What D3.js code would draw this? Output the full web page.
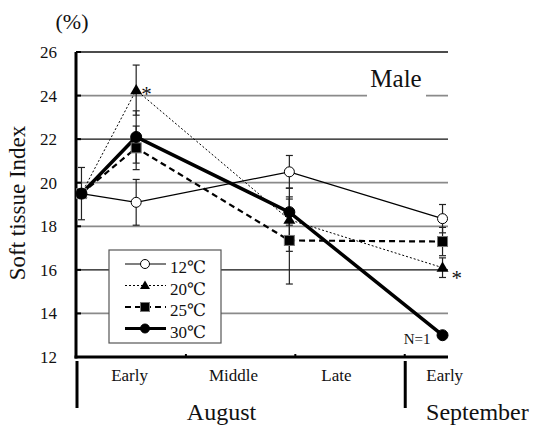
<!DOCTYPE html>
<html>
<head>
<meta charset="utf-8">
<script src="https://cdn.jsdelivr.net/npm/d3@7"></script>
<style>
  body { margin: 0; background: #fff; }
  text { font-family: "Liberation Serif", "DejaVu Serif", serif; fill: #111; }
</style>
</head>
<body>
<svg id="plot-svg" width="535" height="426"></svg>
<script>
// sampling points, in days from 1 August
const sampleDays = [0.5, 5.5, 19.5, 33.5];

const series = ["12℃", "20℃", "25℃", "30℃"];
const values12 = [19.5, 19.1, 20.5, 18.35];
const values20 = [19.5, 24.25, 18.3, 16.1];
const values25 = [19.5, 21.6, 17.35, 17.3];
const values30 = [19.5, 22.1, 18.65, 13.0];

const err12 = [0, 1.05, 0.75, 0.65];
const err20 = [0, 1.15, 1.45, 0.45];
const err25 = [0, 1.0, 2.0, 0.65];
const err30 = [1.2, 1.2, 0.6, 0];

const yTicks = [12, 14, 16, 18, 20, 22, 24, 26];
const periodLabels = ["Early", "Middle", "Late", "Early"];
const periodDays = [4.9, 14.4, 23.8, 33.7];
const monthLabels = ["August", "September"];

const X0 = 76, X1 = 448, Y0 = 357, Y1 = 52;

const svg = d3.select("#plot-svg");

const x = d3.scaleLinear().domain([0, 34]).range([X0, X1]);
const y = d3.scaleLinear().domain([12, 26]).range([Y0, Y1]);

// gridlines
const darkLines = [26, 22, 16];
svg.append("g")
    .selectAll("line")
    .data(yTicks.filter(d => d > 12))
    .enter()
    .append("line")
    .attr("x1", X0).attr("x2", X1)
    .attr("y1", d => y(d)).attr("y2", d => y(d))
    .attr("stroke", d => darkLines.includes(d) ? "#111" : "#8a8a8a")
    .attr("stroke-width", d => darkLines.includes(d) ? 1.3 : 1.8);

// "Male" with white gap over the 24 line
svg.append("rect")
    .attr("x", 367).attr("y", y(24) - 3).attr("width", 59).attr("height", 6)
    .attr("fill", "#fff");
svg.append("text")
    .attr("x", 396).attr("y", 87)
    .attr("text-anchor", "middle")
    .style("font-size", "25px")
    .text("Male");

// y axis labels
const yAxis = d3.axisLeft(y).tickValues(yTicks).tickSize(0).tickPadding(0);
const gy = svg.append("g")
    .attr("transform", "translate(" + (X0 - 19) + ",0)")
    .call(yAxis);
gy.select(".domain").remove();
gy.selectAll("text")
    .style("font-family", "Liberation Serif")
    .style("font-size", "17px")
    .attr("fill", "#111");

// small y ticks on the axis
svg.append("g")
    .selectAll("line")
    .data(yTicks)
    .enter()
    .append("line")
    .attr("x1", X0).attr("x2", X0 + 5)
    .attr("y1", d => y(d)).attr("y2", d => y(d))
    .attr("stroke", "#000").attr("stroke-width", 2);

// x axis ticks
const xAxis = d3.axisBottom(x).tickValues([10, 20, 30]).tickSize(-3).tickFormat("");
const gx = svg.append("g")
    .attr("transform", "translate(0," + Y0 + ")")
    .call(xAxis);
gx.select(".domain").remove();
gx.selectAll("line").attr("stroke", "#000").attr("stroke-width", 2);

// axis lines
svg.append("line")
    .attr("x1", X0).attr("x2", X0).attr("y1", Y1).attr("y2", Y0 + 1.5)
    .attr("stroke", "#000").attr("stroke-width", 3);
svg.append("line")
    .attr("x1", X0 - 1.5).attr("x2", X1).attr("y1", Y0).attr("y2", Y0)
    .attr("stroke", "#000").attr("stroke-width", 3);

// month separators
svg.append("g")
    .selectAll("line")
    .data([0, 30])
    .enter()
    .append("line")
    .attr("x1", d => x(d) + 1).attr("x2", d => x(d) + 1)
    .attr("y1", 361).attr("y2", 408)
    .attr("stroke", "#000").attr("stroke-width", 3);

svg.append("g")
    .selectAll("text")
    .data(periodLabels)
    .enter()
    .append("text")
    .attr("x", (d, i) => x(periodDays[i]))
    .attr("y", 381)
    .attr("text-anchor", "middle")
    .style("font-size", "17px")
    .text(d => d);

svg.append("text")
    .attr("x", x(13.3)).attr("y", 420)
    .attr("text-anchor", "middle")
    .style("font-size", "24px")
    .text(monthLabels[0]);
svg.append("text")
    .attr("x", x(32)).attr("y", 420)
    .attr("text-anchor", "start")
    .style("font-size", "24px")
    .text(monthLabels[1]);

// axis titles
svg.append("text")
    .attr("transform", "translate(25,203) rotate(-90)")
    .attr("text-anchor", "middle")
    .style("font-size", "23px")
    .text("Soft tissue Index");
svg.append("text")
    .attr("x", 72).attr("y", 29)
    .attr("text-anchor", "middle")
    .style("font-size", "22px")
    .text("(%)");

// series styles
const styles = [
    {vals: values12, err: err12, width: 1.2, dash: null, marker: "circle", fill: "#fff", size: 5},
    {vals: values20, err: err20, width: 1, dash: "2,2", marker: "triangle", fill: "#000", size: 6},
    {vals: values25, err: err25, width: 2.2, dash: "6,4", marker: "square", fill: "#000", size: 5},
    {vals: values30, err: err30, width: 3.5, dash: null, marker: "circle", fill: "#000", size: 5.5}
];

const line = d3.line().x(d => x(d.day)).y(d => y(d.v));

// error bars
styles.forEach(s => {
    const pts = sampleDays.map((d, i) => ({day: d, v: s.vals[i], e: s.err[i]})).filter(p => p.e > 0);
    const g = svg.append("g").attr("stroke", "#222").attr("stroke-width", 1.2);
    g.selectAll("line.bar").data(pts).enter().append("line")
        .attr("x1", p => x(p.day)).attr("x2", p => x(p.day))
        .attr("y1", p => y(p.v - p.e)).attr("y2", p => y(p.v + p.e));
    g.selectAll("line.capt").data(pts).enter().append("line")
        .attr("x1", p => x(p.day) - 3.5).attr("x2", p => x(p.day) + 3.5)
        .attr("y1", p => y(p.v + p.e)).attr("y2", p => y(p.v + p.e));
    g.selectAll("line.capb").data(pts).enter().append("line")
        .attr("x1", p => x(p.day) - 3.5).attr("x2", p => x(p.day) + 3.5)
        .attr("y1", p => y(p.v - p.e)).attr("y2", p => y(p.v - p.e));
});

function drawMarker(g, type, cx, cy, size, fill) {
    if (type === "circle") {
        g.append("circle").attr("cx", cx).attr("cy", cy).attr("r", size)
            .attr("fill", fill).attr("stroke", "#000").attr("stroke-width", 1);
    } else if (type === "triangle") {
        const h = size * 1.7;
        g.append("path")
            .attr("d", `M${cx},${cy - h * 0.6}L${cx + size},${cy + h * 0.4}L${cx - size},${cy + h * 0.4}Z`)
            .attr("fill", fill);
    } else {
        g.append("rect").attr("x", cx - size).attr("y", cy - size)
            .attr("width", size * 2).attr("height", size * 2)
            .attr("fill", fill).attr("stroke", "#777").attr("stroke-width", 1);
    }
}

// lines
styles.forEach(s => {
    const pts = sampleDays.map((d, i) => ({day: d, v: s.vals[i]}));
    svg.append("path")
        .datum(pts)
        .attr("d", line)
        .attr("fill", "none")
        .attr("stroke", "#000")
        .attr("stroke-width", s.width)
        .attr("stroke-dasharray", s.dash);
});

// markers
styles.forEach(s => {
    const g = svg.append("g");
    sampleDays.forEach((d, i) => {
        drawMarker(g, s.marker, x(d), y(s.vals[i]), s.size, s.fill);
    });
});

// significance marks and note
svg.append("text")
    .attr("x", x(sampleDays[1]) + 5).attr("y", y(values20[1]) + 11)
    .style("font-size", "21px").text("*");
svg.append("text")
    .attr("x", x(sampleDays[3]) + 9).attr("y", y(values20[3]) + 17)
    .style("font-size", "21px").text("*");
svg.append("text")
    .attr("x", x(sampleDays[3]) - 12).attr("y", y(values30[3]) + 9)
    .attr("text-anchor", "end")
    .style("font-size", "15px").text("N=1");

// legend
const legend = svg.append("g");
legend.append("rect")
    .attr("x", 109).attr("y", 250).attr("width", 112).attr("height", 93)
    .attr("fill", "#fff").attr("stroke", "#555").attr("stroke-width", 1.2);
const legendY = [264, 285.5, 307, 328.5];
styles.forEach((s, i) => {
    const ly = legendY[i];
    legend.append("line")
        .attr("x1", 125).attr("x2", 166).attr("y1", ly).attr("y2", ly)
        .attr("stroke", "#000").attr("stroke-width", Math.min(s.width, 3))
        .attr("stroke-dasharray", s.dash);
    drawMarker(legend, s.marker, 145, ly, s.marker === "triangle" ? 5 : 4.5, s.fill);
    legend.append("text")
        .attr("x", 170).attr("y", ly + 9)
        .style("font-size", "17px")
        .text(series[i]);
});
</script>
</body>
</html>
